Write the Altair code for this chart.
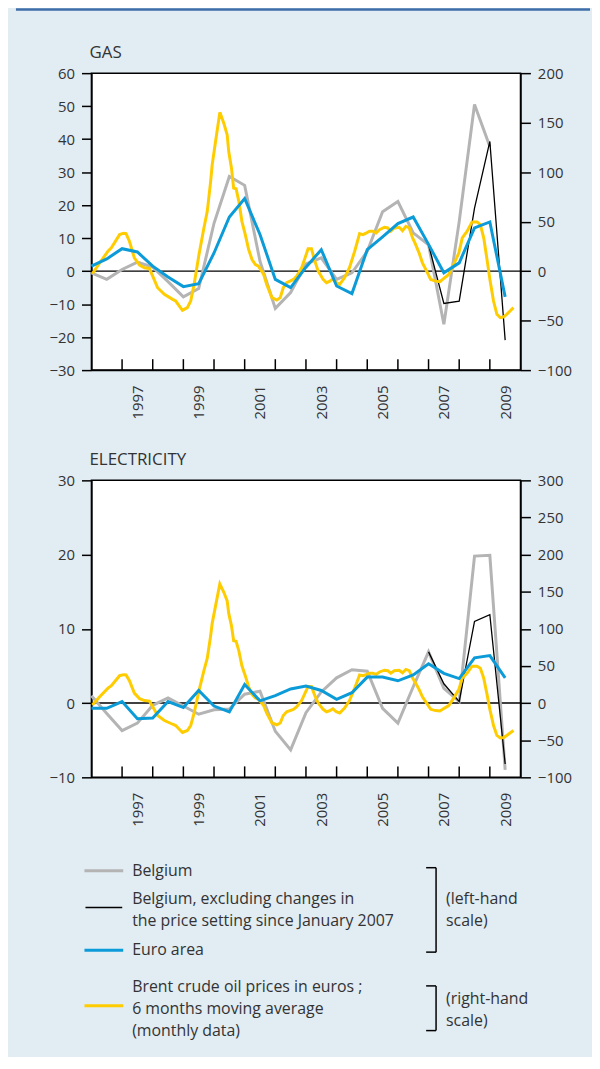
import altair as alt
import pandas as pd

# ---------------- data ----------------
# GAS, Belgium (grey, left-hand scale)
gas_bel_year = [1996.0, 1996.5, 1997.0, 1997.5, 1998.0, 1998.5, 1999.0, 1999.5, 2000.0, 2000.5,
                2001.0, 2001.5, 2002.0, 2002.5, 2003.0, 2003.5, 2004.0, 2004.5, 2005.0, 2005.5,
                2006.0, 2006.5, 2007.0, 2007.5, 2008.0, 2008.5, 2009.0]
gas_bel_value = [-0.5, -2.5, 0.5, 2.7, 1.2, -3.2, -7.8, -5.3, 14.5, 28.7,
                 26.0, 3.0, -11.3, -6.5, 2.2, 4.0, -2.5, -0.5, 6.0, 18.0,
                 21.1, 11.6, 8.0, -16.1, 15.0, 50.5, 37.8]
# GAS, Belgium excluding changes in the price setting since January 2007 (black)
gas_belx_year = [2007.0, 2007.5, 2008.0, 2008.5, 2009.0, 2009.5]
gas_belx_value = [8.0, -9.8, -9.1, 19.1, 39.3, -20.9]
# GAS, Euro area (blue)
gas_ea_year = [1996.0, 1996.5, 1997.0, 1997.5, 1998.0, 1998.5, 1999.0, 1999.5, 2000.0, 2000.5,
               2001.0, 2001.5, 2002.0, 2002.5, 2003.0, 2003.5, 2004.0, 2004.5, 2005.0, 2005.5,
               2006.0, 2006.5, 2007.0, 2007.5, 2008.0, 2008.5, 2009.0, 2009.5]
gas_ea_value = [1.5, 3.7, 6.8, 5.8, 1.5, -1.8, -4.7, -3.8, 5.5, 16.4,
                22.0, 11.1, -2.5, -5.0, 1.2, 6.5, -4.5, -6.8, 6.5, 10.4,
                14.4, 16.4, 8.1, -0.5, 2.5, 13.1, 14.9, -7.8]

# ELECTRICITY, Belgium (grey)
el_bel_year = [1996.0, 1996.5, 1997.0, 1997.5, 1998.0, 1998.5, 1999.0, 1999.5, 2000.0, 2000.5,
               2001.0, 2001.5, 2002.0, 2002.5, 2003.0, 2003.5, 2004.0, 2004.5, 2005.0, 2005.5,
               2006.0, 2006.5, 2007.0, 2007.5, 2008.0, 2008.5, 2009.0, 2009.5]
el_bel_value = [1.0, -1.4, -3.7, -2.7, -0.3, 0.7, -0.4, -1.5, -0.9, -0.8,
                1.2, 1.6, -3.8, -6.3, -1.3, 1.5, 3.4, 4.5, 4.3, -0.7,
                -2.7, 2.2, 6.9, 2.0, 0.2, 19.8, 19.9, -9.0]
# ELECTRICITY, Belgium excluding changes (black)
el_belx_year = [2007.0, 2007.5, 2008.0, 2008.5, 2009.0, 2009.5]
el_belx_value = [6.9, 2.6, 0.2, 11.0, 11.9, -8.2]
# ELECTRICITY, Euro area (blue)
el_ea_year = gas_ea_year
el_ea_value = [-0.7, -0.7, 0.2, -2.1, -2.0, 0.2, -0.6, 1.7, -0.4, -1.2,
               2.5, 0.3, 1.0, 1.9, 2.3, 1.7, 0.5, 1.4, 3.5, 3.5,
               3.0, 3.8, 5.3, 4.0, 3.3, 6.1, 6.4, 3.4]

# Brent crude oil prices in euros, 6 months moving average (yellow, right-hand scale)
brent_year = [1996.03, 1996.27, 1996.54, 1996.65, 1996.92, 1997.05, 1997.13, 1997.24, 1997.40, 1997.57,
              1997.73, 1997.89, 1998.00, 1998.16, 1998.38, 1998.65, 1998.75, 1998.97, 1999.13, 1999.24,
              1999.35, 1999.51, 1999.67, 1999.78, 1999.89, 1999.94, 2000.05, 2000.19, 2000.32, 2000.43,
              2000.48, 2000.57, 2000.64, 2000.72, 2000.81, 2000.91, 2001.02, 2001.13, 2001.24, 2001.35,
              2001.45, 2001.62, 2001.72, 2001.89, 2002.05, 2002.16, 2002.26, 2002.37, 2002.48, 2002.59,
              2002.70, 2002.86, 2002.97, 2003.07, 2003.18, 2003.29, 2003.40, 2003.56, 2003.67, 2003.78,
              2003.88, 2003.99, 2004.10, 2004.26, 2004.42, 2004.59, 2004.75, 2004.86, 2004.96, 2005.07,
              2005.18, 2005.29, 2005.40, 2005.56, 2005.67, 2005.77, 2005.88, 2006.04, 2006.15, 2006.26,
              2006.37, 2006.48, 2006.58, 2006.69, 2006.80, 2006.91, 2007.07, 2007.23, 2007.37, 2007.50,
              2007.66, 2007.82, 2007.99, 2008.10, 2008.26, 2008.42, 2008.58, 2008.69, 2008.80, 2008.90,
              2009.01, 2009.12, 2009.23, 2009.34, 2009.45, 2009.55, 2009.66, 2009.77]
brent_value = [-2.7, 8.4, 20.1, 23.5, 36.9, 38.3, 37.9, 30.2, 13.4, 6.0,
               3.4, 2.7, -5.0, -16.8, -23.5, -28.5, -30.2, -39.6, -36.9, -30.2,
               -13.4, 16.8, 43.6, 60.4, 90.6, 107.4, 130.9, 160.4, 149.3, 137.6,
               120.8, 104.0, 83.9, 83.2, 70.5, 50.3, 36.9, 21.8, 11.7, 6.7,
               5.0, -3.4, -13.4, -26.8, -29.2, -26.8, -16.8, -11.7, -10.1, -8.4,
               -5.0, 3.4, 13.4, 22.5, 22.5, 10.1, 0.0, -8.4, -11.7, -10.1,
               -7.7, -11.7, -13.4, -6.7, 3.4, 20.1, 37.9, 36.9, 38.3, 40.3,
               40.3, 38.6, 41.9, 44.3, 43.6, 40.3, 43.6, 44.3, 40.9, 45.3,
               43.6, 33.6, 26.8, 18.5, 8.4, 1.7, -8.4, -10.1, -10.7, -7.4,
               -3.4, 6.7, 18.5, 33.6, 40.3, 49.7, 49.7, 47.0, 33.6, 13.4,
               -10.1, -30.2, -43.6, -47.0, -46.3, -43.6, -40.3, -36.9]

year_ticks = [1997, 1998, 1999, 2000, 2001, 2002, 2003, 2004, 2005, 2006, 2007, 2008, 2009]
year_labels = [1997, 1999, 2001, 2003, 2005, 2007, 2009]

gas_left_ticks = [-30, -20, -10, 0, 10, 20, 30, 40, 50, 60]
gas_right_ticks = [-100, -50, 0, 50, 100, 150, 200]
el_left_ticks = [-10, 0, 10, 20, 30]
el_right_ticks = [-100, -50, 0, 50, 100, 150, 200, 250, 300]

panel_titles = ["GAS", "ELECTRICITY"]
legend_left_texts = ["Belgium", "Belgium, excluding changes in", "the price setting since January 2007",
                     "Euro area", "Brent crude oil prices in euros ;", "6 months moving average",
                     "(monthly data)"]
legend_right_texts = ["(left-hand", "scale)", "(right-hand", "scale)"]

# ---------------- styles ----------------
FONT = "Open Sans"
TXT = "#333333"
BG = "#e1ecf3"
DARK = "#3d6ea8"
GREY = "#b4b4b4"
BLUE = "#0b9bd8"
YELLOW = "#ffcc00"
W, H = 432, 299
TICKFS = 15
TITLEFS = 17
LEGFS = 16


def series(xs, ys):
    return pd.DataFrame({"x": xs, "y": ys})


def panel(title, grey, black, blue, ldom, lticks, rdom, rticks, top_line=False):
    xs = alt.Scale(domain=[1996, 2010], nice=False, zero=False)
    xax = alt.Axis(values=[y + 0.5 for y in year_labels], labelExpr="floor(datum.value)",
                   ticks=False, grid=False, labelAngle=270, labelPadding=15,
                   domainColor="black", domainWidth=1.5, labelFontSize=TICKFS,
                   labelColor=TXT, labelFont=FONT, title=None)
    X = alt.X("x:Q", scale=xs, axis=xax)
    ls = alt.Scale(domain=ldom, nice=False, zero=False)
    rs = alt.Scale(domain=rdom, nice=False, zero=False)
    lax = alt.Axis(orient="left", values=lticks, grid=False, tickSize=10, tickWidth=1.5,
                   tickColor="black", domainColor="black", domainWidth=1.5,
                   labelPadding=7, labelFontSize=TICKFS, labelColor=TXT, labelFont=FONT,
                   title=None, format="d")
    rax = alt.Axis(orient="right", values=rticks, grid=False, tickSize=10, tickWidth=1.5,
                   tickColor="black", domainColor="black", domainWidth=1.5,
                   labelPadding=7, labelFontSize=TICKFS, labelColor=TXT, labelFont=FONT,
                   title=None, format="d")

    zero = alt.Chart(pd.DataFrame({"y": [0]})).mark_rule(color="black", strokeWidth=1.5).encode(
        y=alt.Y("y:Q", scale=ls, axis=lax))
    g = alt.Chart(grey).mark_line(color=GREY, strokeWidth=3).encode(
        x=X, y=alt.Y("y:Q", scale=ls, axis=None))
    k = alt.Chart(black).mark_line(color="black", strokeWidth=1.3).encode(
        x=X, y=alt.Y("y:Q", scale=ls, axis=None))
    yl = alt.Chart(series(brent_year, brent_value)).mark_line(color=YELLOW, strokeWidth=3).encode(
        x=X, y=alt.Y("y:Q", scale=rs, axis=rax))
    b = alt.Chart(blue).mark_line(color=BLUE, strokeWidth=3).encode(
        x=X, y=alt.Y("y:Q", scale=ls, axis=None))
    ticks = alt.Chart(pd.DataFrame({"x": year_ticks})).mark_rule(color="black", strokeWidth=1.5).encode(
        x=X, y=alt.value(H), y2=alt.value(H - 11))
    ttl = alt.Chart(pd.DataFrame({"t": [title]})).mark_text(
        align="left", baseline="alphabetic", fontSize=TITLEFS, font=FONT, color=TXT).encode(
        x=alt.value(-2), y=alt.value(-15.5), text="t:N")
    layers = [zero, g, k, yl, b, ticks, ttl]
    if top_line:
        layers.append(alt.Chart(pd.DataFrame({"a": [0]})).mark_rule(color=DARK, strokeWidth=2.5).encode(
            x=alt.value(-76), x2=alt.value(502), y=alt.value(-64)))
    return alt.layer(*layers).resolve_scale(y="independent").properties(
        width=W, height=H,
        view=alt.ViewBackground(fill="white", stroke="black", strokeWidth=1.5))


gas = panel(panel_titles[0],
            series(gas_bel_year, gas_bel_value),
            series(gas_belx_year, gas_belx_value),
            series(gas_ea_year, gas_ea_value),
            [-30, 60], gas_left_ticks, [-100, 200], gas_right_ticks, top_line=True)
elec = panel(panel_titles[1],
             series(el_bel_year, el_bel_value),
             series(el_belx_year, el_belx_value),
             series(el_ea_year, el_ea_value),
             [-10, 30], el_left_ticks, [-100, 300], el_right_ticks)

# ---------------- legend (layout positions in pixels) ----------------
leg_lines = pd.DataFrame({
    "x": [-7, -6, -7, -7, 347, 337, 337, 347, 337, 337],
    "x2": [32, 31, 32, 32, 347, 347, 347, 347, 347, 347],
    "y": [-17, 20, 63, 119, -20, -20, 65, 99, 99, 144],
    "y2": [-17, 20, 63, 119, 65, -20, 65, 144, 99, 144],
    "c": [GREY, "black", BLUE, YELLOW, "black", "black", "black", "black", "black", "black"],
    "w": [3, 1.5, 3, 3, 1.5, 1.5, 1.5, 1.5, 1.5, 1.5],
})
leg_text = pd.DataFrame({
    "t": legend_left_texts + legend_right_texts,
    "x": [41] * 7 + [357] * 4,
    "y": [-17, 11.5, 33.5, 63, 100, 122, 144, 11.5, 33.5, 112.5, 134.5],
})
leg_rules = alt.Chart(leg_lines).mark_rule().encode(
    x=alt.X("x:Q", scale=None, axis=None), x2="x2:Q",
    y=alt.Y("y:Q", scale=None, axis=None), y2="y2:Q",
    color=alt.Color("c:N", scale=None), strokeWidth=alt.StrokeWidth("w:Q", scale=None))
leg_texts = alt.Chart(leg_text).mark_text(align="left", baseline="middle", fontSize=LEGFS,
                                          font=FONT, color=TXT).encode(
    x=alt.X("x:Q", scale=None, axis=None), y=alt.Y("y:Q", scale=None, axis=None), text="t:N")
legend = alt.layer(leg_rules, leg_texts).properties(
    width=W, height=166,
    view=alt.ViewBackground(fill="transparent", stroke="transparent"))

chart = alt.vconcat(gas, elec, legend, spacing=111, bounds="flush").properties(
    background=BG,
    padding={"left": 6, "top": -4, "right": 0, "bottom": 0},
).configure(font=FONT)

chart.save("out.html", embed_options={"renderer": "svg", "actions": False})
